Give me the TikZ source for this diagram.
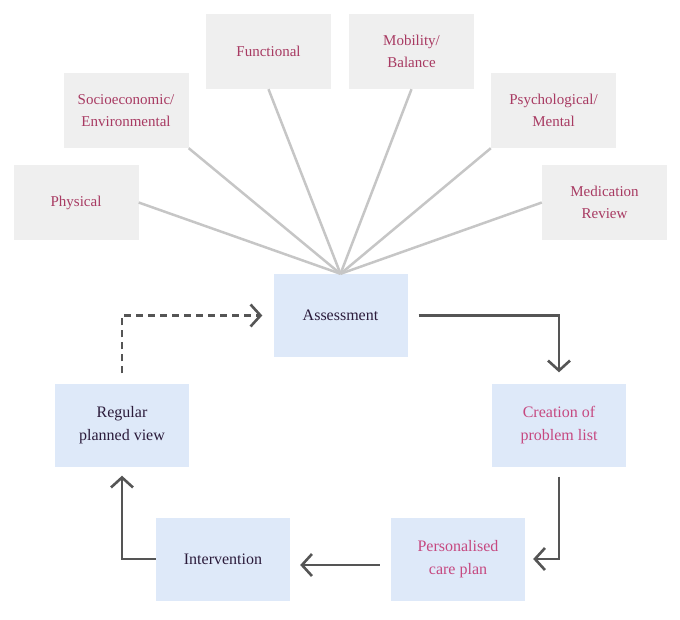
\documentclass[tikz,border=0pt]{standalone}
\usepackage{fontspec}
\setmainfont{Liberation Serif}
\usetikzlibrary{arrows.meta}
\definecolor{greybox}{HTML}{EFEFEF}
\definecolor{bluebox}{HTML}{DEE9F9}
\definecolor{crim}{HTML}{A83A62}
\definecolor{pinktxt}{HTML}{C64880}
\definecolor{darktxt}{HTML}{2B1B3B}
\definecolor{spoke}{HTML}{C6C6C6}
\definecolor{arrowc}{HTML}{555555}
\tikzset{
  factor/.style={fill=greybox, minimum width=125pt, minimum height=75pt, inner sep=0pt,
    align=center, text=crim, font=\fontsize{15}{22}\selectfont},
  stage/.style={fill=bluebox, minimum width=134pt, minimum height=83pt, inner sep=0pt,
    align=center, font=\fontsize{16}{23}\selectfont},
  spokeline/.style={draw=spoke, line width=2.5pt},
  flow/.style={draw=arrowc, line width=2.8pt, -{Straight Barb[length=10pt,width=22pt,line width=2.6pt]}},
}
\begin{document}
\begin{tikzpicture}[x=1pt,y=-1pt]
\useasboundingbox (0,0) rectangle (680,619);
% factor boxes
\node[factor] (phys) at (76,202.5) {Physical};
\node[factor] (socio) at (126,110.5) {Socioeconomic/\\Environmental};
\node[factor] (func) at (268.5,51.5) {Functional};
\node[factor] (mob) at (411.5,51.5) {Mobility/\\Balance};
\node[factor] (psych) at (553.5,110.5) {Psychological/\\Mental};
\node[factor] (med) at (604.5,202.5) {Medication\\Review};
% stage boxes
\node[stage, text=darktxt] (assess) at (340.5,315.5) {Assessment};
\node[stage, text=pinktxt] (creation) at (559,425) {Creation of\\problem list};
\node[stage, text=pinktxt] (personal) at (458,559) {Personalised\\care plan};
\node[stage, text=darktxt] (interv) at (223,559) {Intervention};
\node[stage, text=darktxt] (regular) at (122,425) {Regular\\planned view};
% spokes
\draw[spokeline] (phys.east) -- (assess.north);
\draw[spokeline] (socio.south east) -- (assess.north);
\draw[spokeline] (func.south) -- (assess.north);
\draw[spokeline] (mob.south) -- (assess.north);
\draw[spokeline] (psych.south west) -- (assess.north);
\draw[spokeline] (med.west) -- (assess.north);
% cycle arrows
\draw[flow, shorten <=11pt, shorten >=11pt] (assess.east) -| (creation.north);
\draw[flow, shorten <=10pt, shorten >=8pt] (creation.south) |- (personal.east);
\draw[flow, shorten <=11pt, shorten >=10pt] ([yshift=-6pt]personal.west) -- ([yshift=-6pt]interv.east);
\draw[flow, shorten >=9pt] (interv.west) -| (regular.south);
\draw[flow, dashed, dash pattern=on 7pt off 5pt, shorten <=10pt, shorten >=11pt] (regular.north) |- (assess.west);
\end{tikzpicture}
\end{document}
